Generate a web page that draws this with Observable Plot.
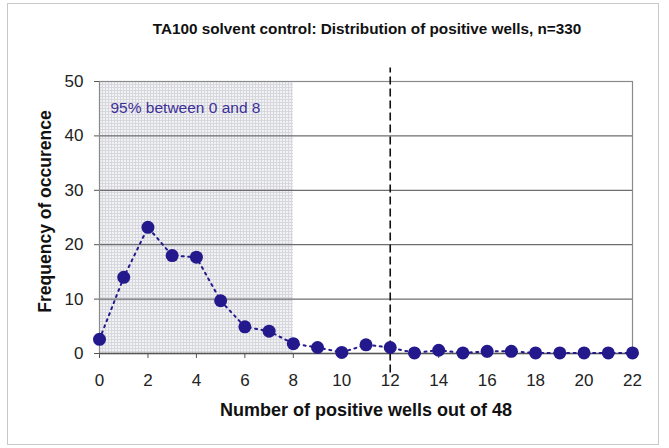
<!DOCTYPE html>
<html>
<head>
<meta charset="utf-8">
<script src="https://cdn.jsdelivr.net/npm/d3@7"></script>
<script src="https://cdn.jsdelivr.net/npm/@observablehq/plot@0.6"></script>
<style>
  html, body { margin: 0; padding: 0; background: #fff; }
  #wrap { position: relative; width: 669px; height: 448px; overflow: hidden; }
  #border { position: absolute; left: 7px; top: 3px; width: 652px; height: 442px; border: 1px solid #c8c8c8; box-sizing: border-box; pointer-events: none; }
  svg { font-family: "Liberation Sans", Arial, sans-serif; }
</style>
</head>
<body>
<div id="wrap"><div id="border"></div></div>
<script>
const title = "TA100 solvent control: Distribution of positive wells, n=330";
const xLabel = "Number of positive wells out of 48";
const yLabel = "Frequency of occurence";
const annotation = "95% between 0 and 8";
const wells = [0,1,2,3,4,5,6,7,8,9,10,11,12,13,14,15,16,17,18,19,20,21,22];
const frequency = [2.6,14.0,23.2,18.0,17.7,9.7,4.9,4.1,1.8,1.1,0.2,1.6,1.1,0.1,0.6,0.1,0.4,0.4,0.1,0.1,0.1,0.1,0.1];
const xTicks = [0,2,4,6,8,10,12,14,16,18,20,22];
const yTicks = [0,10,20,30,40,50];
const shadeRange = [0, 8];
const cutoff = [12];
const cutoffSpan = [-3.6, 52.5];

const data = wells.map((w, i) => ({w, f: frequency[i]}));
const navy = "#24198c";

const chart = Plot.plot({
  width: 669,
  height: 448,
  marginLeft: 99,
  marginRight: 37,
  marginTop: 81,
  marginBottom: 95,
  style: {fontFamily: "'Liberation Sans', Arial, sans-serif", background: "transparent"},
  x: {domain: [0, 22], label: null},
  y: {domain: [0, 50], label: null},
  marks: [
    Plot.rect([{x1: shadeRange[0], x2: shadeRange[1], y1: yTicks[0], y2: yTicks[yTicks.length - 1]}],
      {x1: "x1", x2: "x2", y1: "y1", y2: "y2", fill: "url(#gridpat)"}),
    Plot.gridY(yTicks.slice(1, -1), {stroke: "#6e6e6e", strokeOpacity: 1, strokeWidth: 1.3}),
    Plot.frame({stroke: "#8a8a8a", strokeWidth: 1.2}),
    Plot.ruleY([0], {stroke: "#555", strokeWidth: 1.3}),
    Plot.axisX({ticks: xTicks, tickSize: 5, tickPadding: 15, fontSize: 17, fill: "#222", stroke: "#555", label: null, tickFormat: d3.format("d")}),
    Plot.axisY({ticks: yTicks, tickSize: 5, tickPadding: 11, fontSize: 17, fill: "#222", stroke: "#555", label: null}),
    Plot.ruleX(cutoff, {y1: cutoffSpan[0], y2: cutoffSpan[1], stroke: "#111", strokeWidth: 1.6, strokeDasharray: "8,4"}),
    Plot.line(data, {x: "w", y: "f", stroke: navy, strokeWidth: 2, strokeDasharray: "2,4.5"}),
    Plot.dot(data, {x: "w", y: "f", r: 6.5, fill: navy, stroke: "none"}),
    Plot.text([annotation], {frameAnchor: "top-left", dx: 11, dy: 20, fill: "#3b2f99", fontSize: 15.5}),
    Plot.text([title], {frameAnchor: "top", dx: 1, dy: -58, fontWeight: "bold", fontSize: 15.3, fill: "#111"}),
    Plot.text([xLabel], {frameAnchor: "bottom", dx: 0, dy: 62, fontWeight: "bold", fontSize: 18, fill: "#111"}),
    Plot.text([yLabel], {frameAnchor: "left", dx: -54, dy: -6, rotate: -90, textAnchor: "middle", fontWeight: "bold", fontSize: 17.5, fill: "#111"})
  ]
});

const svg = d3.select(chart);
const defs = svg.insert("defs", ":first-child");
const pat = defs.append("pattern").attr("id", "gridpat").attr("patternUnits", "userSpaceOnUse")
  .attr("width", 3).attr("height", 3);
pat.append("rect").attr("width", 3).attr("height", 3).attr("fill", "#f2f2f4");
pat.append("path").attr("d", "M0,0.5H3M0.5,0V3").attr("stroke", "#d7d7de").attr("stroke-width", 1);

document.getElementById("wrap").appendChild(chart);
</script>
</body>
</html>
